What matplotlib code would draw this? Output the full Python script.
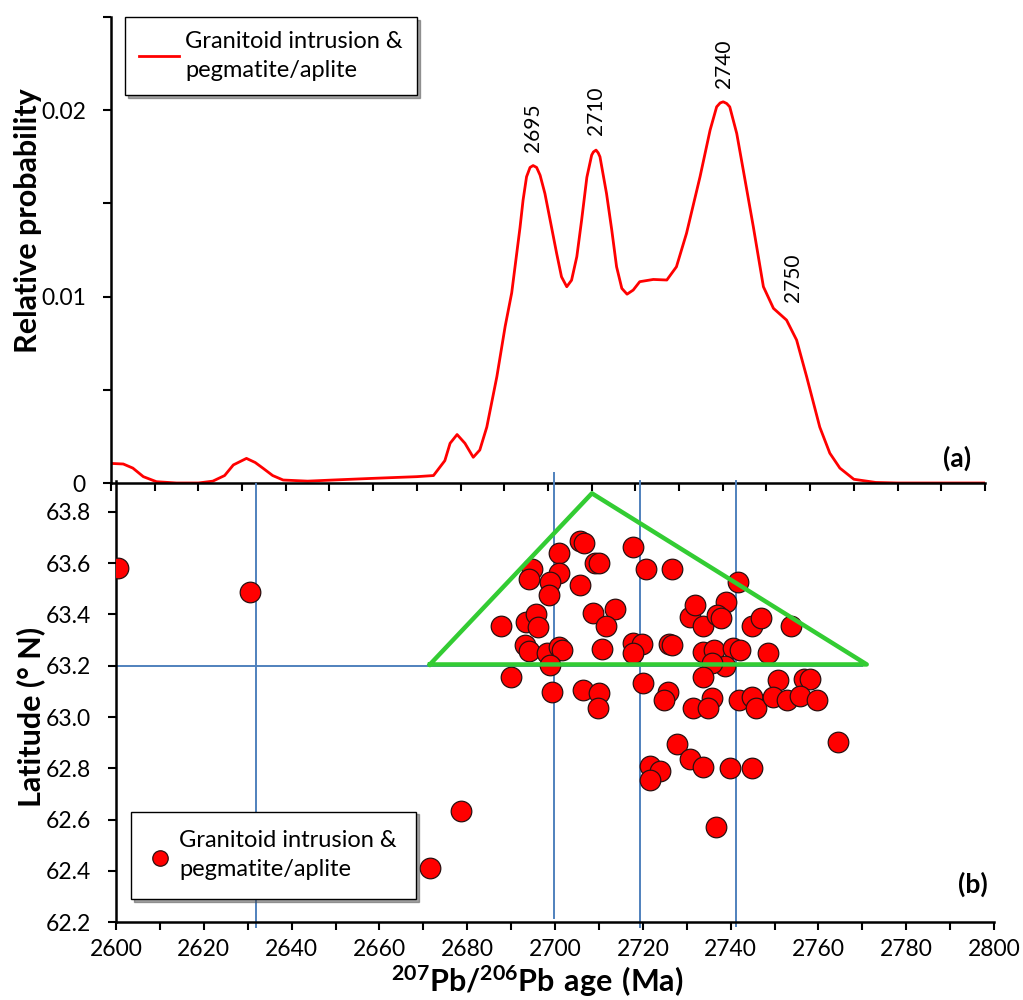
import matplotlib
matplotlib.use('Agg')
import matplotlib.pyplot as plt
from matplotlib.ticker import MultipleLocator

plt.rcParams['font.family'] = ['Lato', 'DejaVu Sans']
plt.rcParams['mathtext.fontset'] = 'custom'
plt.rcParams['mathtext.rm'] = 'Lato'
plt.rcParams['mathtext.bf'] = 'Lato:bold'

# probability density curve
pdf_age = [2600, 2602.8, 2605, 2607.4, 2610.4, 2615, 2620, 2623.3, 2626, 2628,
           2631, 2633, 2634.8, 2637, 2639.4, 2645, 2650.8, 2660, 2670, 2673.8,
           2676.4, 2677.6, 2679.2, 2681.0, 2682.9, 2684.4, 2686, 2688.3, 2690.2,
           2691.7, 2693.6, 2694.3, 2695.1, 2695.9, 2696.6, 2697.4, 2698.2, 2699.3,
           2700.5, 2702.0, 2703.1, 2704.3, 2705.4, 2706.6, 2707.7, 2708.9, 2710.0,
           2710.4, 2711.0, 2711.5, 2711.9, 2713.4, 2714.6, 2715.7, 2716.9, 2718.1, 2719.5, 2721,
           2724.1, 2727.2, 2729.4, 2731.7, 2734.8, 2737.1, 2738.6, 2739.4, 2740.1, 2740.9,
           2741.6, 2743.2, 2744.7, 2747, 2749.3, 2751.6, 2754.6, 2756.9, 2759.2, 2762.2,
           2764.5, 2766.8, 2770, 2775, 2780, 2790, 2800]
pdf_prob = [0.00105, 0.00102, 0.0008, 0.00034, 0.00007, 0.0, 0.0, 0.0001, 0.0004, 0.00097,
            0.00132, 0.0011, 0.00079, 0.0004, 0.00016, 0.0001, 0.00016, 0.00025, 0.00034, 0.0004,
            0.0012, 0.00213, 0.0026, 0.00213, 0.00138, 0.00177, 0.0030, 0.0057, 0.0084,
            0.0102, 0.0137, 0.01517, 0.01643, 0.01693, 0.01703, 0.01693, 0.01651, 0.01553,
            0.0141, 0.0123, 0.01106, 0.01053, 0.01088, 0.01214, 0.0141, 0.0164, 0.01759,
            0.01776, 0.01786, 0.01771, 0.0175, 0.01553, 0.01357, 0.0116, 0.01044, 0.01013, 0.01035, 0.0108,
            0.01092, 0.01089, 0.0116, 0.01339, 0.01643, 0.01893, 0.02018, 0.02039, 0.02045, 0.02036,
            0.02018, 0.01875, 0.01678, 0.01374, 0.01053, 0.00937, 0.00874, 0.00767, 0.0057, 0.0030,
            0.0016, 0.0008, 0.0002, 0.00003, 0.0, 0.0, 0.0]

peak_labels = ['2695', '2710', '2740', '2750']
peak_x = [2696.6, 2710.9, 2740.3, 2756.1]
peak_y = [0.01775, 0.01866, 0.0212, 0.0097]

# zircon ages vs latitude
age = [2687.6, 2690.0, 2693.4, 2695.7, 2696.2, 2693.2, 2694.1, 2694.7, 2694.1, 2700.8,
       2700.8, 2698.9, 2698.7, 2705.7, 2705.7, 2706.6, 2709.1, 2710.1, 2708.7, 2713.7,
       2711.6, 2698.1, 2700.8, 2701.5, 2698.9, 2699.2, 2706.4, 2710.1, 2709.7, 2710.6,
       2717.7, 2720.7, 2726.6, 2717.7, 2719.7, 2717.8, 2720.0, 2725.8, 2724.9, 2726.0,
       2726.6, 2730.8, 2731.9, 2741.6, 2739.0, 2733.6, 2736.8, 2737.8, 2744.8, 2746.9,
       2753.8, 2733.8, 2736.1, 2740.6, 2742.1, 2748.6, 2738.7, 2735.7, 2733.6, 2750.7,
       2756.7, 2758.1, 2735.7, 2731.5, 2734.9, 2741.8, 2744.8, 2745.8, 2749.7, 2752.8,
       2755.7, 2759.6, 2764.5, 2727.7, 2730.8, 2733.8, 2739.9, 2744.8, 2721.6, 2723.9,
       2721.6, 2736.6, 2600.4, 2630.5, 2678.6, 2671.5]
lat = [63.356, 63.155, 63.371, 63.400, 63.352, 63.281, 63.257, 63.576, 63.537, 63.640,
       63.562, 63.527, 63.475, 63.514, 63.686, 63.679, 63.599, 63.599, 63.406, 63.420,
       63.356, 63.248, 63.274, 63.261, 63.203, 63.099, 63.105, 63.095, 63.036, 63.264,
       63.664, 63.576, 63.576, 63.287, 63.284, 63.248, 63.131, 63.099, 63.066, 63.284,
       63.281, 63.390, 63.436, 63.527, 63.449, 63.356, 63.397, 63.385, 63.355, 63.387,
       63.356, 63.254, 63.261, 63.268, 63.261, 63.251, 63.199, 63.209, 63.157, 63.144,
       63.147, 63.147, 63.073, 63.034, 63.036, 63.066, 63.079, 63.034, 63.079, 63.066,
       63.082, 63.066, 62.902, 62.894, 62.835, 62.806, 62.800, 62.800, 62.809, 62.791,
       62.754, 62.570, 63.579, 63.488, 62.635, 62.413]

tri_age = [2671.5, 2708.4, 2771.0, 2671.5]
tri_lat = [63.205, 63.872, 63.205, 63.205]

vline_age = [2631.8, 2699.8, 2719.4, 2741.2]
vline_top = [63.91, 63.95, 63.92, 63.92]
vline_bot = [62.18, 62.215, 62.18, 62.185]
hline_lat = 63.2
hline_end = 2770

legend_text = 'Granitoid intrusion &\npegmatite/aplite'
blue = '#4F81BD'

fig = plt.figure(figsize=(10.23, 10.0), dpi=100)
fig.patch.set_facecolor('white')
ax1 = fig.add_axes([0.1085, 0.517, 0.8543, 0.466])
ax2 = fig.add_axes([0.1134, 0.0777, 0.8583, 0.4413])
for ax in (ax1, ax2):
    ax.patch.set_visible(False)
    ax.spines['top'].set_visible(False)
    ax.spines['right'].set_visible(False)
    ax.spines['left'].set_linewidth(1.8)
    ax.spines['bottom'].set_linewidth(1.8)

# (a) probability curve
ax1.plot(pdf_age, pdf_prob, color='red', lw=2, label=legend_text, solid_joinstyle='round')
ax1.set_xlim(2600, 2800)
ax1.set_ylim(0, 0.025)
ax1.xaxis.set_major_locator(MultipleLocator(10))
ax1.tick_params(axis='x', labelbottom=False, direction='out', length=6, width=1.5)
ax1.set_yticks([0, 0.005, 0.01, 0.015, 0.02, 0.025])
ax1.set_yticklabels(['0', '', '0.01', '', '0.02', ''])
ax1.tick_params(axis='y', direction='out', length=6, width=1.5, labelsize=16.5, pad=12)
ax1.set_ylabel('Relative probability', fontsize=22, fontweight='bold')
ax1.yaxis.set_label_coords(-0.079, 0.562)
for lab, x, y in zip(peak_labels, peak_x, peak_y):
    ax1.text(x, y, lab, rotation=90, ha='center', va='bottom', fontsize=15)
ax1.text(2793.6, 0.00134, '(a)', ha='center', va='center', fontsize=19, fontweight='bold')
leg1 = ax1.legend(loc='upper left', bbox_to_anchor=(0.122, 0.983), bbox_transform=fig.transFigure,
                  borderaxespad=0, fancybox=False, shadow=True, edgecolor='black', framealpha=1,
                  fontsize=17, handlelength=1.7, handletextpad=0.25, borderpad=0.6)
for t in leg1.get_texts():
    t.set_linespacing(1.45)

# (b) scatter
ax2.scatter(age, lat, s=220, color='red', edgecolor='#2b1010', linewidth=0.9, zorder=3,
            label=legend_text)
ax2.plot(tri_age, tri_lat, color='#33CC33', lw=3.2, zorder=4, clip_on=False)
ax2.plot([2600, hline_end], [hline_lat, hline_lat], color=blue, lw=1.4, zorder=2)
for x, t, b in zip(vline_age, vline_top, vline_bot):
    ax2.plot([x, x], [b, t], color=blue, lw=1.4, zorder=2, clip_on=False)
ax2.set_xlim(2600, 2800)
ax2.set_ylim(62.2, 63.92)
ax2.xaxis.set_major_locator(MultipleLocator(20))
ax2.xaxis.set_minor_locator(MultipleLocator(10))
ax2.set_yticks([62.2, 62.4, 62.6, 62.8, 63.0, 63.2, 63.4, 63.6, 63.8])
ax2.set_yticklabels(['62.2', '62.4', '62.6', '62.8', '63.0', '63.2', '63.4', '63.6', '63.8'])
ax2.tick_params(axis='both', which='both', direction='out', length=6, width=1.5, labelsize=16.5)
ax2.tick_params(axis='x', pad=6)
ax2.tick_params(axis='y', pad=12)
ax2.set_ylabel('Latitude (° N)', fontsize=22, fontweight='bold')
ax2.yaxis.set_label_coords(-0.081, 0.465)
ax2.set_xlabel(r'$\mathbf{^{207}Pb/^{206}Pb\ age\ (Ma)}$', fontsize=22)
ax2.xaxis.set_label_coords(0.4795, -0.093)
ax2.text(2795.2, 62.349, '(b)', ha='center', va='center', fontsize=19, fontweight='bold')
leg2 = ax2.legend(loc='lower left', bbox_to_anchor=(0.128, 0.101), bbox_transform=fig.transFigure,
                  borderaxespad=0, fancybox=False, shadow=True, edgecolor='black', framealpha=1,
                  fontsize=17, handlelength=0.9, handletextpad=0.35, borderpad=0.8,
                  markerscale=0.75)
for t in leg2.get_texts():
    t.set_linespacing(1.45)

fig.savefig('out.png', dpi=100)
